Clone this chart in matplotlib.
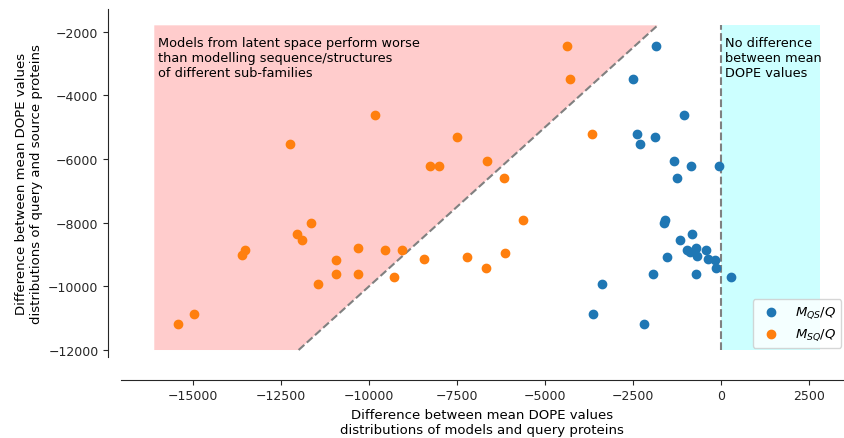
import matplotlib
matplotlib.use("Agg")
import matplotlib.pyplot as plt
from matplotlib.patches import Polygon

# Data
qs_x = [-1838, -2500, -2377, -1884, -2292, -1060, -1344, -852, -48, -1259,
        -1591, -1610, -815, -1165, -975, -719, -881, -691, -426, -361,
        -170, -142, -1525, -1941, -702, 293, -3381, -3645, -2196]
qs_y = [-2449, -3486, -5224, -5318, -5538, -4627, -6053, -6229, -6210, -6606,
        -7916, -8020, -8356, -8535, -8858, -8786, -8930, -9034, -8858, -9141,
        -9163, -9414, -9069, -9603, -9603, -9697, -9927, -10859, -11184]

sq_x = [-9830, -12236, -11648, -12037, -11912, -13532, -13599, -10312, -9545, -9062,
        -10937, -10946, -10321, -11449, -9281, -14981, -15418, -4384, -4298, -7509,
        -8258, -8011, -6648, -6173, -3656, -5634, -8446, -7216, -6128, -6676]
sq_y = [-4627, -5538, -8020, -8356, -8535, -8858, -9025, -8786, -8868, -8868,
        -9182, -9603, -9603, -9927, -9707, -10859, -11184, -2449, -3486, -5318,
        -6219, -6219, -6053, -6606, -5224, -7916, -9141, -9069, -8943, -9414]

labels = ["$M_{QS}/Q$", "$M_{SQ}/Q$"]
worse_text = ("Models from latent space perform worse\n"
              "than modelling sequence/structures\n"
              "of different sub-families")
nodiff_text = "No difference\nbetween mean\nDOPE values"
xlabel = "Difference between mean DOPE values\ndistributions of models and query proteins"
ylabel = "Difference between mean DOPE values\ndistributions of query and source proteins"

# region bounds
red_left, top, bottom, diag_top = -16100, -1800, -12000, -1800
cyan_right = 2800

W, H = 844, 439
fig = plt.figure(figsize=(W / 100, H / 100), dpi=100)
ax = fig.add_axes([120.7 / W, 1 - 358.3 / H, (W - 120.7) / W, (358.3 - 10) / H])

red = Polygon([(red_left, bottom), (red_left, top), (diag_top, top), (bottom, bottom)],
              closed=True, facecolor=(1, 0.8, 0.8), edgecolor='none', zorder=0)
ax.add_patch(red)
ax.fill_between([0, cyan_right], bottom, top, facecolor=(0.8, 1, 1), edgecolor='none', zorder=0)
ax.plot([bottom, diag_top], [bottom, diag_top], ls='--', color='gray', lw=1.5, zorder=1)
ax.plot([0, 0], [bottom, top], ls='--', color='gray', lw=1.5, zorder=1)

ax.scatter(qs_x, qs_y, s=36, color='#1f77b4', label=labels[0], zorder=3)
ax.scatter(sq_x, sq_y, s=36, color='#ff7f0e', label=labels[1], zorder=3)

ax.text(-16000, -2130, worse_text, va='top', ha='left', fontsize=9.3, color='black')
ax.text(120, -2130, nodiff_text, va='top', ha='left', fontsize=9.3, color='black')

ax.set_xlim(-17054, 3494)
ax.set_ylim(-12229, -1287)
ax.set_xticks([-15000, -12500, -10000, -7500, -5000, -2500, 0, 2500])
ax.set_yticks([-12000, -10000, -8000, -6000, -4000, -2000])
ax.tick_params(labelsize=9, color='#262626', labelcolor='#262626')

for s in ['top', 'right']:
    ax.spines[s].set_visible(False)
ax.spines['left'].set_position(('outward', 12.4 * 0.72))
ax.spines['bottom'].set_position(('outward', 22.4 * 0.72))
for s in ['left', 'bottom']:
    ax.spines[s].set_color('#262626')

ax.set_xlabel(xlabel, fontsize=9.5)
ax.set_ylabel(ylabel, fontsize=9.5)

ax.legend(loc='lower right', bbox_to_anchor=(1.0, 0.02), borderaxespad=0.2, fontsize=9.5)

fig.savefig("out.png", dpi=100)
